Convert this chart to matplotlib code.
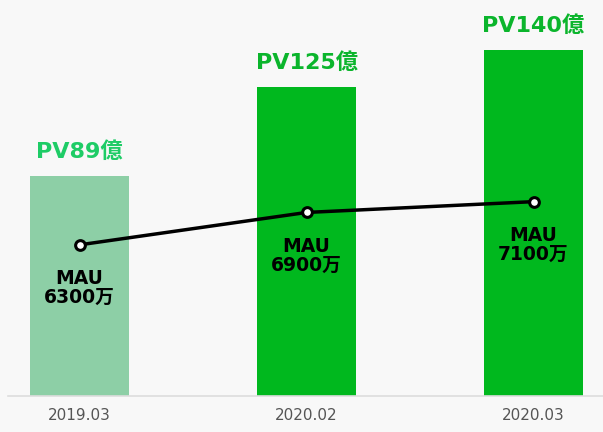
import matplotlib.pyplot as plt

plt.rcParams['font.family'] = ['DejaVu Sans', 'Noto Sans CJK JP']

# data
periods = ['2019.03', '2020.02', '2020.03']
pv = [89, 125, 140]          # 億
mau = [6300, 6900, 7100]     # 万
pv_labels = ['PV89億', 'PV125億', 'PV140億']
mau_labels = ['MAU\n6300万', 'MAU\n6900万', 'MAU\n7100万']

bar_colors = ['#8dcfa6', '#00b81e', '#00b81e']
pv_text_colors = ['#1ecc66', '#0bb52c', '#0bb52c']
bg = '#f8f8f8'

fig = plt.figure(figsize=(6.03, 4.32), dpi=100, facecolor=bg)
ax = fig.add_axes([8 / 603, 1 - 396 / 432, 1 - 8 / 603, 386 / 432])
ax.set_facecolor(bg)

x = list(range(len(periods)))
ax.bar(x, pv, width=0.436, color=bar_colors, zorder=2)
ax.set_xlim(-0.315, 2.306)
ax.set_ylim(0, 156)

for i, v in enumerate(pv):
    ax.annotate(pv_labels[i], (i, v), xytext=(0, 10), textcoords='offset points',
                ha='center', va='bottom', fontsize=16, fontweight='bold',
                color=pv_text_colors[i])

ax.set_xticks(x)
ax.set_xticklabels(periods, fontsize=11, color='#555555')
ax.tick_params(axis='x', length=0, pad=9)
ax.set_yticks([])
for s in ['top', 'right', 'left']:
    ax.spines[s].set_visible(False)
ax.spines['bottom'].set_color('#dddddd')
ax.spines['bottom'].set_linewidth(1.2)

# MAU line on a second axis
ax2 = ax.twinx()
ax2.set_ylim(3500, 10650)
ax2.plot(x, mau, color='black', linewidth=2.5, marker='o', markersize=7,
         markerfacecolor='white', markeredgecolor='black', markeredgewidth=2.2,
         zorder=3)
for i, v in enumerate(mau):
    ax2.annotate(mau_labels[i], (i, v), xytext=(0, -31), textcoords='offset points',
                 ha='center', va='center', fontsize=13.5, fontweight='bold',
                 color='black', linespacing=1.0)
ax2.set_yticks([])
for s in ax2.spines.values():
    s.set_visible(False)

fig.savefig('out.png', dpi=100, facecolor=bg)
